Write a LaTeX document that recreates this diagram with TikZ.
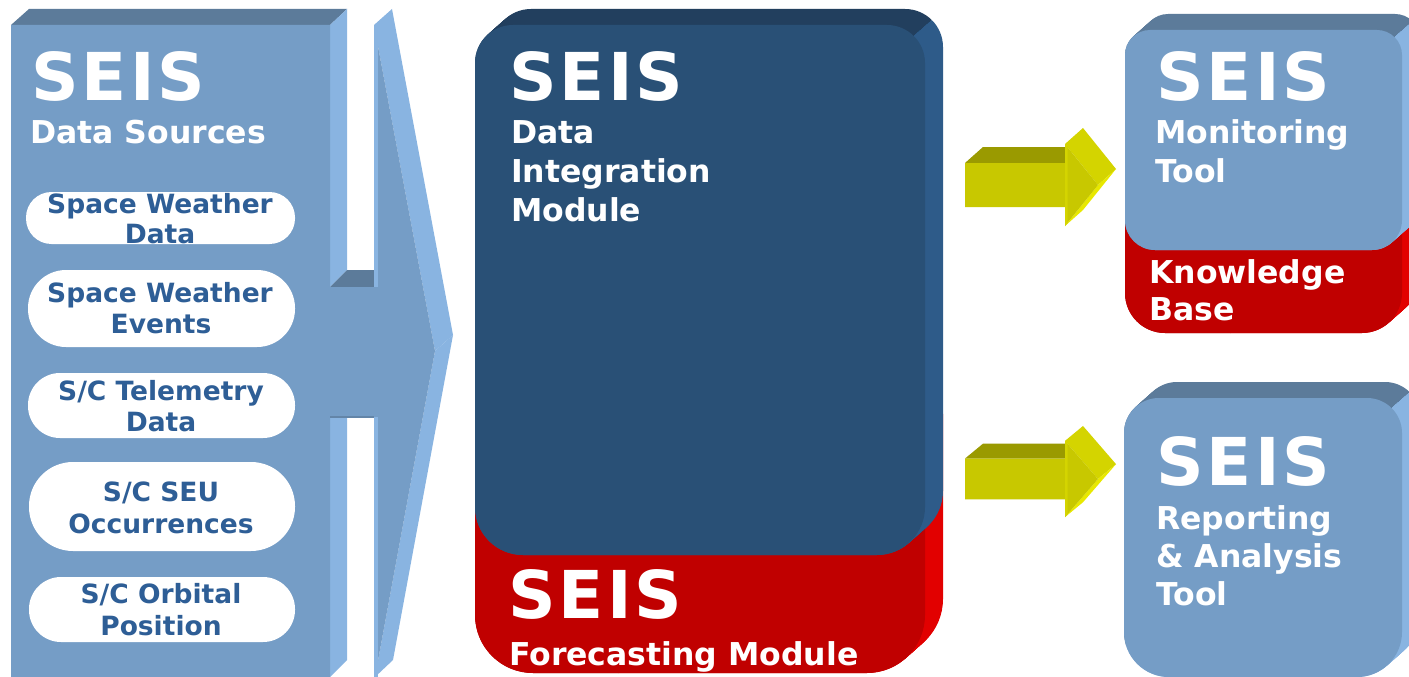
\documentclass[tikz,border=0pt]{standalone}
\usepackage{fontspec}
\setmainfont{DejaVu Sans}
\definecolor{pFront}{RGB}{117,157,198}
\definecolor{pSide}{RGB}{137,180,225}
\definecolor{pTop}{RGB}{92,123,154}
\definecolor{nFront}{RGB}{41,80,118}
\definecolor{nTop}{RGB}{34,63,94}
\definecolor{nSide}{RGB}{46,91,137}
\definecolor{rFront}{RGB}{192,0,0}
\definecolor{rSide}{RGB}{226,0,0}
\definecolor{rTop}{RGB}{165,0,0}
\definecolor{pillText}{RGB}{46,94,150}
\definecolor{yFront}{RGB}{200,200,0}
\definecolor{yTop}{RGB}{154,154,0}
\definecolor{yLit}{RGB}{212,212,0}
\definecolor{yEdge}{RGB}{232,232,0}
\newcommand\seis{S\kern3pt E\kern3.5pt I\kern3pt S}
\tikzset{
  rr/.style n args={6}{insert path={(#1,#2+#5) arc[start angle=180,end angle=270,radius=#5] -- (#3-#5,#2) arc[start angle=270,end angle=360,radius=#5] -- (#3,#4-#6) arc[start angle=0,end angle=90,radius=#6] -- (#1+#6,#4) arc[start angle=90,end angle=180,radius=#6] -- cycle}},
  big/.style={font=\fontsize{66}{66}\selectfont\bfseries, text=white, inner sep=0pt, anchor=base west},
  sub/.style={font=\fontsize{31.5}{31.5}\selectfont\bfseries, text=white, inner sep=0pt, anchor=base west},
  pilltxt/.style={font=\fontsize{26.5}{26.5}\selectfont\bfseries, text=pillText, inner sep=0pt, anchor=base},
  pill/.style={fill=white, draw=none, inner sep=0pt},
  yarr/.pic={
    \fill[yTop] (-133,-22) -- (-115,-38) -- (-33,-38) -- (-33,-22) -- cycle;
    \fill[yLit] (-33,-41) -- (-15,-57) -- (18,-16) -- (0,0) -- cycle;
    \fill[yEdge] (0,0) -- (18,-16) -- (-15,25) -- (-33,41) -- cycle;
    \fill[yFront] (-133,-22) -- (-33,-22) -- (-33,-41) -- (0,0) -- (-33,41) -- (-33,22) -- (-133,22) -- cycle;
    \fill[yLit] (-33,-41) -- (-30.5,-38.2) -- (-30.5,38.2) -- (-33,41) -- cycle;
  }
}
% #1 x1 #2 y1 #3 x2 #4 y2 #5 top radius #6 bottom radius #7 top colour #8 side colour #9 front colour
\newcommand\threedbox[9]{%
  \pgfmathsetmacro\tbpx{#3-#5+0.7071*#5}%
  \pgfmathsetmacro\tbpy{#2+#5-0.7071*#5}%
  \begin{scope}
    \clip (\tbpx-3600,\tbpy+3200) -- (\tbpx+3600,\tbpy-3200) -- (-4000,-4000) -- cycle;
    \foreach \k in {0,...,18}{\fill[#7,shift={(\k,-\k*16/18)},rr={#1}{#2}{#3}{#4}{#5}{#6}];}
  \end{scope}
  \begin{scope}
    \clip (\tbpx-3600,\tbpy+3200) -- (\tbpx+3600,\tbpy-3200) -- (4000,4000) -- cycle;
    \foreach \k in {0,...,18}{\fill[#8,shift={(\k,-\k*16/18)},rr={#1}{#2}{#3}{#4}{#5}{#6}];}
  \end{scope}
  \fill[#9,rr={#1}{#2}{#3}{#4}{#5}{#6}];
}
\begin{document}
\begin{tikzpicture}[x=1pt,y=-1pt]
\useasboundingbox (0,0) rectangle (1409,677);
\clip (0,0) rectangle (1409,677);
\fill[white] (0,0) rectangle (1409,677);
% ---- left panel (data sources) ----
\fill[pTop] (11,25) -- (29,9) -- (347,9) -- (330,25) -- cycle;
\fill[pSide] (330,25) -- (347,9) -- (347,270) -- (330,287) -- cycle;
\fill[pSide] (330,417) -- (347,417) -- (347,660) -- (330,677) -- cycle;
\fill[pTop] (330,287) -- (347,270) -- (374,270) -- (374,287) -- cycle;
\fill[pSide] (374,25) -- (392,9) -- (453,335) -- (435,351) -- cycle;
\fill[pSide] (435,351) -- (453,335) -- (393,660) -- (375,677) -- cycle;
\fill[pFront] (11,25) -- (330,25) -- (330,287) -- (374,287) -- (374,25) -- (435,351) -- (375,677) -- (374,677) -- (374,417) -- (330,417) -- (330,677) -- (11,677) -- cycle;
\fill[pSide] (374,25) rectangle (377.5,287);
\fill[pSide] (374,417) rectangle (377.5,677);
\fill[pFront!85!black] (330,415.5) rectangle (374,418);
% pills
\node[pill, minimum width=269pt, minimum height=52pt, rounded corners=25.5pt] (p1) at (160.5,218) {};
\node[pill, minimum width=267pt, minimum height=77pt, rounded corners=38pt] (p2) at (161.5,308.5) {};
\node[pill, minimum width=267pt, minimum height=65pt, rounded corners=32pt] (p3) at (161.5,405.5) {};
\node[pill, minimum width=266pt, minimum height=89pt, rounded corners=44pt] (p4) at (162,506.5) {};
\node[pill, minimum width=266pt, minimum height=65pt, rounded corners=32pt] (p5) at (162,609.5) {};
\node[pilltxt] (p1a) at (160,213) {Space Weather};
\node[pilltxt] (p1b) at (160,243) {Data};
\node[pilltxt] (p2a) at (160,302) {Space Weather};
\node[pilltxt] (p2b) at (161,333) {Events};
\node[pilltxt] (p3a) at (161,400) {S/C Telemetry};
\node[pilltxt] (p3b) at (161,431) {Data};
\node[pilltxt] (p4a) at (161,501) {S/C SEU};
\node[pilltxt] (p4b) at (161,533) {Occurrences};
\node[pilltxt] (p5a) at (161,603) {S/C Orbital};
\node[pilltxt] (p5b) at (161,635) {Position};
\node[big] (dsT) at (31,100) {\seis};
\node[sub] (dsS) at (30,143) {Data Sources};
% ---- centre module ----
\threedbox{475}{400}{925}{673}{30}{58}{rTop}{rSide}{rFront}
\threedbox{475}{25}{925}{555}{38}{48}{nTop}{nSide}{nFront}
\node[big] (diT) at (509,100) {\seis};
\node[sub] (di1) at (511,143) {Data};
\node[sub] (di2) at (511,182) {Integration};
\node[sub] (di3) at (511,221) {Module};
\node[big] (fmT) at (508,618) {\seis};
\node[sub] (fmS) at (509,665) {Forecasting Module};
% ---- yellow arrows ----
\pic (a1) at (1098,185) {yarr};
\pic[yscale=0.93] (a2) at (1098,479) {yarr};
% ---- right top ----
\threedbox{1125}{180}{1402}{333}{25}{40}{rTop}{rSide}{rFront}
\threedbox{1125}{30}{1402}{250}{25}{30}{pTop}{pSide}{pFront}
\node[big] (mtT) at (1156,100) {\seis};
\node[sub] (mt1) at (1155,143) {Monitoring};
\node[sub] (mt2) at (1155,182) {Tool};
\node[sub] (kb1) at (1149,283) {Knowledge};
\node[sub] (kb2) at (1149,320) {Base};
% ---- right bottom ----
\threedbox{1124}{398}{1402}{677}{35}{45}{pTop}{pSide}{pFront}
\node[big] (raT) at (1156,485) {\seis};
\node[sub] (ra1) at (1156,529) {Reporting};
\node[sub] (ra2) at (1156,567) {\& Analysis};
\node[sub] (ra3) at (1156,605) {Tool};
\end{tikzpicture}
\end{document}
